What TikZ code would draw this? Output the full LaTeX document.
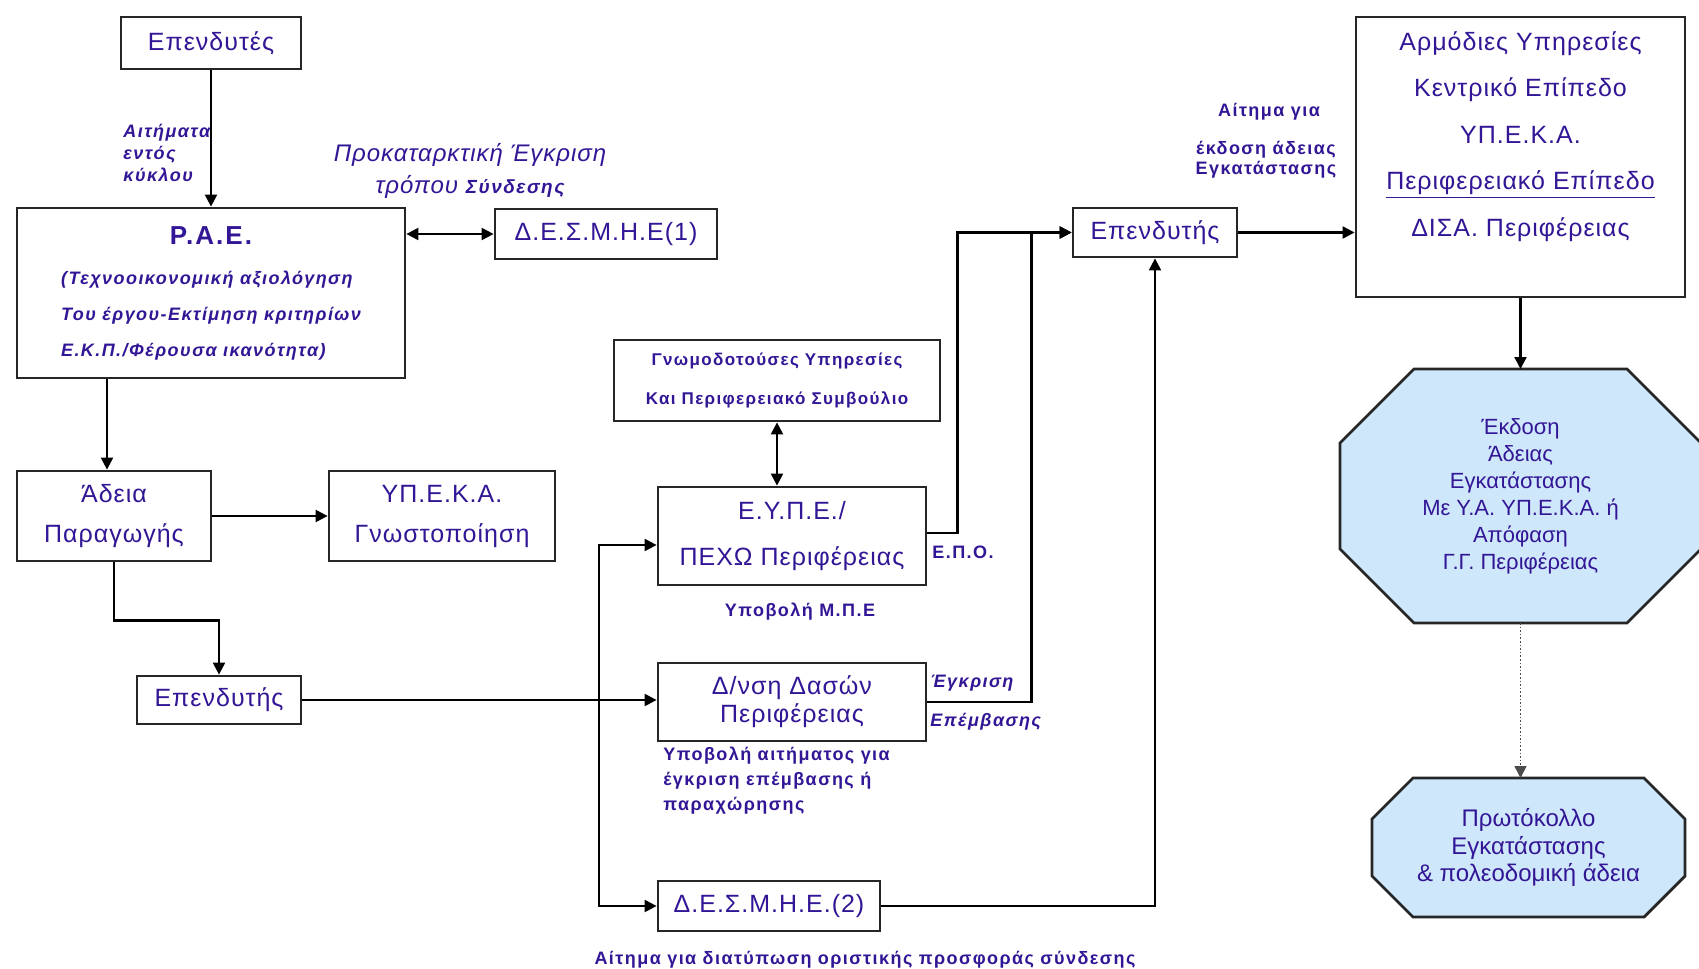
\documentclass[tikz,border=0pt]{standalone}
\usepackage{fontspec}
\setmainfont{Liberation Sans}
\newfontfamily\boxfont[LetterSpace=4]{Liberation Sans}
\newfontfamily\lblfont[LetterSpace=8]{Liberation Sans}
\usetikzlibrary{arrows.meta,calc,backgrounds,positioning}
\definecolor{txtblue}{RGB}{50,22,150}
\definecolor{octfill}{RGB}{207,231,250}

\begin{document}
\begin{tikzpicture}[x=0.5pt, y=-0.5pt, >={Triangle[length=6pt,width=6pt]},
  BOX/.style={rectangle, draw=black!85, line width=1.4pt, fill=white, align=center, inner sep=0pt, text=txtblue, font=\boxfont\fontsize{12.5}{20}\selectfont},
  LBL/.style={inner sep=0pt, align=left, text=txtblue, font=\lblfont\bfseries\fontsize{9}{11}\selectfont},
  OCTTXT/.style={align=center, inner sep=0pt, outer sep=0pt, text=txtblue},
  OCT/.style={draw=black!85, line width=1.4pt, fill=octfill},
  CON/.style={line width=1.1pt},]
\useasboundingbox (0,0) rectangle (1699,969);

%Nodes
\node[BOX, minimum width=90pt, minimum height=26pt] (inv1) at (211,43) {Επενδυτές};
\node[BOX, minimum width=194pt, minimum height=85pt] (rae) at (211,293) {\lblfont\bfseries\itshape\fontsize{9}{18}\selectfont
  \begin{tabular}{@{}l@{}}\multicolumn{1}{c}{\fontsize{13}{15}\selectfont\upshape Ρ.Α.Ε.}\\[2pt]
  (Τεχνοοικονομική αξιολόγηση\\ Του έργου-Εκτίμηση κριτηρίων\\ Ε.Κ.Π./Φέρουσα ικανότητα)\end{tabular}};
\node[BOX, minimum width=111pt, minimum height=25pt] (desmie1) at (606,234) {Δ.Ε.Σ.Μ.Η.Ε(1)};
\node[BOX, minimum width=97pt, minimum height=45pt] (adeia) at (114,516) {Άδεια\\Παραγωγής};
\node[BOX, minimum width=113pt, minimum height=45pt] (ypeka) at (442,516) {ΥΠ.Ε.Κ.Α.\\Γνωστοποίηση};
\node[BOX, minimum width=82pt, minimum height=24pt] (inv2) at (219,700) {Επενδυτής};
\node[BOX, minimum width=163pt, minimum height=40.5pt, font=\lblfont\bfseries\fontsize{8.5}{20}\selectfont] (gnom) at (777,380.5) {Γνωμοδοτούσες Υπηρεσίες\\Και Περιφερειακό Συμβούλιο};
\node[BOX, minimum width=134pt, minimum height=49pt, font=\boxfont\fontsize{12.5}{23}\selectfont] (eype) at (792,536) {Ε.Υ.Π.Ε./\\ΠΕΧΩ Περιφέρειας};
\node[BOX, minimum width=134pt, minimum height=39pt, font=\boxfont\fontsize{12.5}{14}\selectfont] (dasi) at (792,702) {Δ/νση Δασών\\Περιφέρειας};
\node[BOX, minimum width=111pt, minimum height=25pt] (desmie2) at (769,906) {Δ.Ε.Σ.Μ.Η.Ε.(2)};
\node[BOX, minimum width=82pt, minimum height=24.5pt] (inv3) at (1155,232.5) {Επενδυτής};
\node[BOX, minimum width=164.5pt, minimum height=140pt, font=\boxfont\fontsize{12.5}{23.25}\selectfont] (armod) at (1520.5,157) {Αρμόδιες Υπηρεσίες\\Κεντρικό Επίπεδο\\ΥΠ.Ε.Κ.Α.\\\underline{Περιφερειακό Επίπεδο}\\ΔΙΣΑ. Περιφέρειας\\\mbox{}};
\node[OCTTXT, minimum width=180.5pt, minimum height=127pt, font=\fontsize{11}{13.5}\selectfont] (oct1) at (1520.5,496) {Έκδοση\\Άδειας\\Εγκατάστασης\\Με Υ.Α. ΥΠ.Ε.Κ.Α. ή\\Απόφαση\\Γ.Γ. Περιφέρειας};
\node[OCTTXT, minimum width=156.5pt, minimum height=69.5pt, font=\fontsize{12}{13.75}\selectfont] (oct2) at (1528.5,847.5) {Πρωτόκολλο\\Εγκατάστασης\\\& πολεοδομική άδεια};

%Labels
\node[LBL, anchor=west, font=\lblfont\bfseries\itshape\fontsize{9}{11}\selectfont] (aitkyk) at (123,152.5) {Αιτήματα\\εντός\\κύκλου};
\node[OCTTXT, font=\boxfont\itshape\fontsize{12}{16}\selectfont] (prok) at (470,171) {Προκαταρκτική Έγκριση\\τρόπου {\lblfont\bfseries\fontsize{9.5}{16}\selectfont Σύνδεσης}};
\node[LBL, anchor=west] (epo) at (932,552) {Ε.Π.Ο.};
\node[LBL] (ypmpe) at (800,612) {Υποβολή Μ.Π.Ε};
\node[LBL, anchor=west, font=\lblfont\bfseries\itshape\fontsize{9}{11}\selectfont] (egkr) at (930,683) {Έγκριση};
\node[LBL, anchor=west, font=\lblfont\bfseries\itshape\fontsize{9}{11}\selectfont] (epemv) at (930,722) {Επέμβασης};
\node[LBL, anchor=west, font=\lblfont\bfseries\fontsize{9}{12.5}\selectfont] (ypait) at (663,781) {Υποβολή αιτήματος για\\έγκριση επέμβασης ή\\παραχώρησης};
\node[LBL] (aitdiat) at (865,960) {Αίτημα για διατύπωση οριστικής προσφοράς σύνδεσης};
\node[LBL] (aitgia) at (1269,112) {Αίτημα για};
\node[LBL, align=center, font=\lblfont\bfseries\fontsize{9}{10}\selectfont] (ekdosi) at (1266,160) {έκδοση άδειας\\Εγκατάστασης};

%Background and octagons
\begin{scope}[on background layer]
\fill[white] (0,0) rectangle (1699,969);
\foreach \o/\c in {oct1/74, oct2/41}
  \draw[OCT] ($(\o.north west)+(\c,0)$) -- ($(\o.north east)+(-\c,0)$) -- ($(\o.north east)+(0,\c)$)
    -- ($(\o.south east)+(0,-\c)$) -- ($(\o.south east)+(-\c,0)$) -- ($(\o.south west)+(\c,0)$)
    -- ($(\o.south west)+(0,-\c)$) -- ($(\o.north west)+(0,\c)$) -- cycle;
\end{scope}

%Lines
\coordinate (bus) at (599,700);
\draw[CON, ->] (inv1) -- (rae);
\draw[CON, <->] (desmie1.west) -- (desmie1.west -| rae.east);
\draw[CON, ->] ([xshift=-3.5pt]rae.south -| adeia.north) -- ([xshift=-3.5pt]adeia.north);
\draw[CON, ->] (adeia) -- (ypeka);
\draw[CON, ->] (adeia.south) -- ++(0,58) -| (inv2.north);
\draw[CON, ->] (inv2.east) -- (inv2.east -| dasi.west);
\draw[CON, ->] (bus) |- ([yshift=-4.5pt]eype.west);
\draw[CON, ->] (bus) |- (desmie2.west);
\draw[CON, <->] (gnom.south) -- (gnom.south |- eype.north);
\draw[CON, ->] ([yshift=1.5pt]eype.east) -- ++(30,0) |- (inv3.west);
\draw[CON, ->] (dasi.east) -- ++(104,0) |- (inv3.west);
\draw[CON, ->] (desmie2.east) -| (inv3.south);
\draw[CON, ->] (inv3.east) -- (inv3.east -| armod.west);
\draw[CON, ->] (armod) -- (oct1);
\draw[->, line width=0.8pt, densely dotted, black!70] (oct1.south) -- (oct1.south |- oct2.north);

\end{tikzpicture}
\end{document}
